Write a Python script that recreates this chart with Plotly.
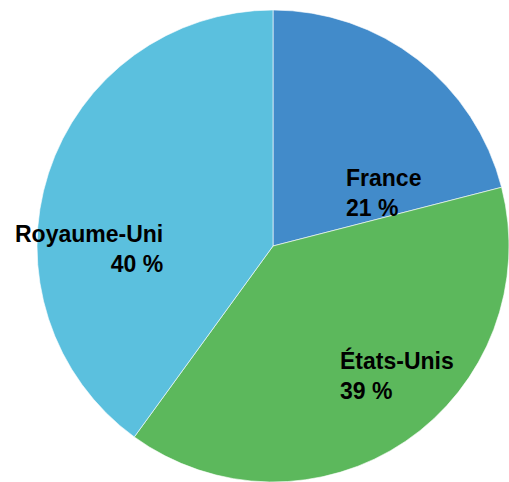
import plotly.graph_objects as go

countries = ["France", "États-Unis", "Royaume-Uni"]
shares = [21, 39, 40]
colors = ["#428BCA", "#5CB85C", "#5BC0DE"]

W, H = 509, 482

fig = go.Figure(go.Pie(
    labels=countries,
    values=shares,
    sort=False,
    direction="clockwise",
    rotation=0,
    textinfo="none",
    hoverinfo="label+percent",
    marker=dict(colors=colors, line=dict(color="rgba(255,255,255,0.6)", width=1)),
    domain=dict(x=[37 / W, 1], y=[0, 1 - 10 / H]),
    showlegend=False,
))

# label placement (pixel positions converted to paper coords)
label_pos = {
    "France": (344, 193, "left"),
    "États-Unis": (338, 375, "left"),
    "Royaume-Uni": (165, 249, "right"),
}
for name, val in zip(countries, shares):
    px, py, anchor = label_pos[name]
    fig.add_annotation(
        x=px / W, y=1 - py / H, xref="paper", yref="paper",
        text=f"<b>{name}<br>{val} %</b>",
        showarrow=False, xanchor=anchor, yanchor="middle", align=anchor,
        font=dict(family="Liberation Sans, Arial, sans-serif", size=23, color="black"),
    )

fig.update_layout(
    width=W, height=H,
    margin=dict(l=0, r=0, t=0, b=0),
    paper_bgcolor="white",
    plot_bgcolor="white",
)

fig.write_html("out.html")
